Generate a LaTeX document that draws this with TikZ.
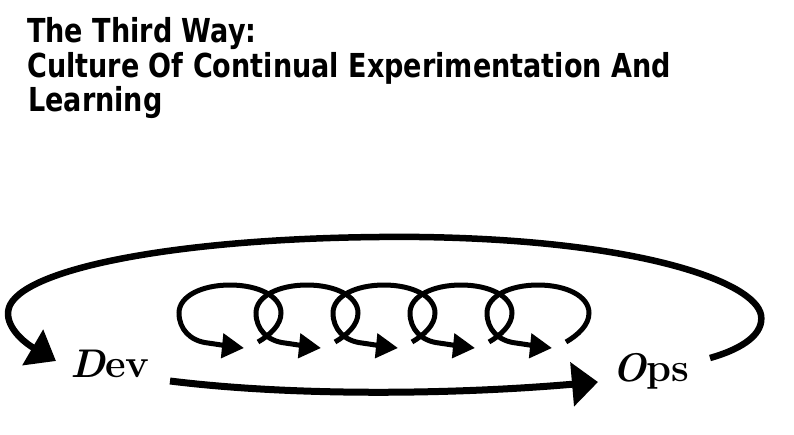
\documentclass[tikz,border=0pt]{standalone}
\usepackage{fontspec}
\usepackage{graphicx}
\newfontfamily\titlefont{DejaVu Sans}
\usetikzlibrary{arrows.meta}
\tikzset{
  titletext/.style={anchor=base west, inner sep=0pt, font=\titlefont\bfseries\fontsize{33}{33}\selectfont},
  namelabel/.style={anchor=base west, inner sep=0pt, font=\fontsize{40}{40}\selectfont\bfseries},
  coil/.style={line width=5pt, -{Triangle[length=22pt,width=24pt]}},
  bigloop/.style={line width=6.5pt, -{Triangle[length=27pt,width=40pt]}},
  flow/.style={line width=7pt, -{Triangle[length=26pt,width=43pt]}}
}
\begin{document}
\begin{tikzpicture}[x=1pt,y=-1pt]
\useasboundingbox (0,0) rectangle (794,434);
\node[titletext] (t1) at (27,42) {\scalebox{0.82}[1]{The Third Way:}};
\node[titletext] (t2) at (27,77) {\scalebox{0.82}[1]{Culture Of Continual Experimentation And}};
\node[titletext] (t3) at (28,111) {\scalebox{0.82}[1]{Learning}};

\node[namelabel] (dev) at (70,377) {{\itshape D}ev};
\node[namelabel] (ops) at (612,381) {{\itshape O}ps};

% big feedback loop from Ops back to Dev
\coordinate (loopstart) at (710,358);
\coordinate (looptip) at (56,361);
\draw[bigloop] (loopstart) .. controls (745,348) and (764,333) .. (761,315)
  .. controls (755,282) and (640,240) .. (420,237)
  .. controls (200,235) and (30,265) .. (10,305)
  .. controls (2,322) and (20,340) .. (looptip);

% flow from Dev to Ops
\coordinate (flowstart) at (170,381);
\coordinate (flowtip) at (598,382);
\draw[flow] (flowstart) .. controls (300,397) and (460,394) .. (flowtip);

% coil of small loops
\foreach \cx in {230,307,384,461,538}{
  \draw[coil, shift={(\cx,313)}] (28,29) .. controls (40,22) and (51,12) .. (51,0)
    .. controls (51,-17) and (28,-28) .. (0,-28)
    .. controls (-28,-28) and (-51,-17) .. (-51,0)
    .. controls (-51,16) and (-40,28) .. (-22,30)
    .. controls (-8,32) and (4,34) .. (14,35);
}
\end{tikzpicture}
\end{document}
